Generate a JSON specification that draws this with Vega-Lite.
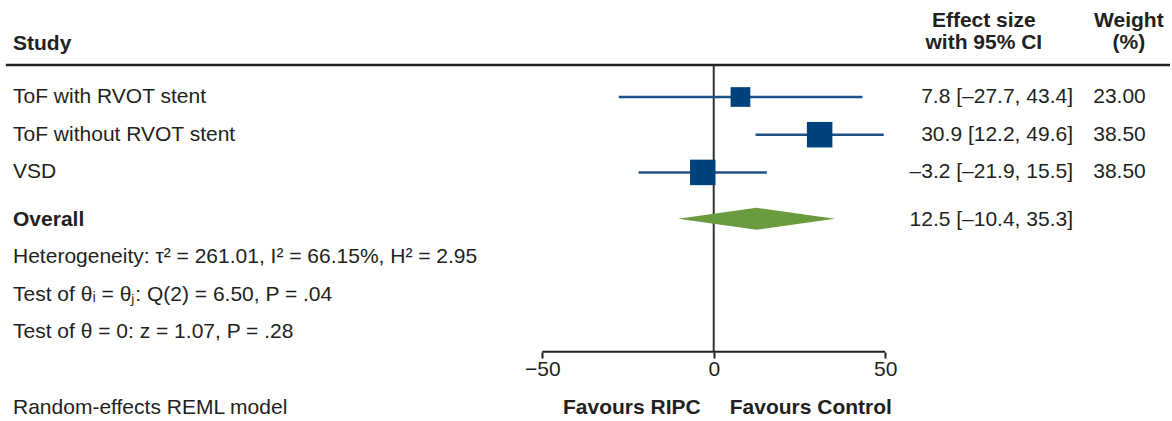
{
  "$schema": "https://vega.github.io/schema/vega-lite/v6.json",
  "width": 1172,
  "height": 421,
  "autosize": {"type": "fit", "contains": "padding"},
  "padding": 0,
  "background": "white",
  "config": {
    "view": {"stroke": null},
    "text": {"font": "Liberation Sans", "fontSize": 21, "color": "#231f20", "baseline": "middle"},
    "axisX": {
      "format": "d", "domain": false, "grid": false,
      "ticks": true, "tickSize": 6, "tickWidth": 2, "tickColor": "#231f20",
      "labelFont": "Liberation Sans", "labelFontSize": 21, "labelColor": "#231f20",
      "labelPadding": 0, "labelFlush": false, "title": null, "offset": -69
    }
  },
  "datasets": {
    "studies": [
      {"study": "ToF with RVOT stent", "row": 1, "es": 7.8, "lo": -27.7, "hi": 43.4, "weight": 23.0, "ci": "7.8 [–27.7, 43.4]", "w": "23.00"},
      {"study": "ToF without RVOT stent", "row": 2, "es": 30.9, "lo": 12.2, "hi": 49.6, "weight": 38.5, "ci": "30.9 [12.2, 49.6]", "w": "38.50"},
      {"study": "VSD", "row": 3, "es": -3.2, "lo": -21.9, "hi": 15.5, "weight": 38.5, "ci": "–3.2 [–21.9, 15.5]", "w": "38.50"}
    ],
    "overall": [
      {"label": "Overall", "row": 4.26, "es": 12.5, "lo": -10.4, "hi": 35.3, "ci": "12.5 [–10.4, 35.3]"}
    ],
    "diamond": [
      {"x": -10.4, "top": 4.23, "bottom": 4.23},
      {"x": 12.5, "top": 3.94, "bottom": 4.52},
      {"x": 35.3, "top": 4.23, "bottom": 4.23}
    ],
    "stats": [
      {"text": "Heterogeneity: τ² = 261.01, I² = 66.15%, H² = 2.95", "row": 5.24},
      {"text": "Test of θᵢ = θⱼ: Q(2) = 6.50, P = .04", "row": 6.25},
      {"text": "Test of θ = 0: z = 1.07, P = .28", "row": 7.23},
      {"text": "Random-effects REML model", "row": 9.25}
    ],
    "esHeader": [
      {"text": "Effect size", "row": -1.02},
      {"text": "with 95% CI", "row": -0.42}
    ],
    "wHeader": [
      {"text": "Weight", "row": -1.02},
      {"text": "(%)", "row": -0.42}
    ]
  },
  "layer": [
    {
      "data": {"values": [{}]},
      "mark": {"type": "rule", "color": "#231f20", "strokeWidth": 2.5},
      "encoding": {
        "x": {"datum": -206.5, "type": "quantitative", "scale": {"domain": [-208.2, 133.1], "nice": false, "zero": false}, "axis": {"values": [-50, 0, 50]}},
        "x2": {"datum": 133.1},
        "y": {"datum": 0.15, "type": "quantitative", "scale": {"domain": [-1.573, 9.594], "nice": false, "zero": false, "reverse": true}, "axis": null}
      }
    },
    {
      "data": {"values": [{}]},
      "mark": {"type": "rule", "color": "#333333", "strokeWidth": 2},
      "encoding": {
        "x": {"datum": 0, "type": "quantitative", "scale": {"domain": [-208.2, 133.1], "nice": false, "zero": false}, "axis": {"values": [-50, 0, 50]}},
        "y": {"datum": 0.15, "type": "quantitative", "scale": {"domain": [-1.573, 9.594], "nice": false, "zero": false, "reverse": true}, "axis": null},
        "y2": {"datum": 7.76}
      }
    },
    {
      "data": {"values": [{}]},
      "mark": {"type": "rule", "color": "#231f20", "strokeWidth": 2},
      "encoding": {
        "x": {"datum": -50, "type": "quantitative", "scale": {"domain": [-208.2, 133.1], "nice": false, "zero": false}, "axis": {"values": [-50, 0, 50]}},
        "x2": {"datum": 50},
        "y": {"datum": 7.76, "type": "quantitative", "scale": {"domain": [-1.573, 9.594], "nice": false, "zero": false, "reverse": true}, "axis": null}
      }
    },
    {
      "data": {"name": "studies"},
      "mark": {"type": "rule", "color": "#1d4f88", "strokeWidth": 2.5},
      "encoding": {
        "x": {"field": "lo", "type": "quantitative", "scale": {"domain": [-208.2, 133.1], "nice": false, "zero": false}, "axis": {"values": [-50, 0, 50]}},
        "x2": {"field": "hi"},
        "y": {"field": "row", "type": "quantitative", "scale": {"domain": [-1.573, 9.594], "nice": false, "zero": false, "reverse": true}, "axis": null}
      }
    },
    {
      "data": {"name": "studies"},
      "mark": {"type": "square", "color": "#00427c", "filled": true, "opacity": 1, "strokeWidth": 0},
      "encoding": {
        "x": {"field": "es", "type": "quantitative", "scale": {"domain": [-208.2, 133.1], "nice": false, "zero": false}, "axis": {"values": [-50, 0, 50]}},
        "y": {"field": "row", "type": "quantitative", "scale": {"domain": [-1.573, 9.594], "nice": false, "zero": false, "reverse": true}, "axis": null},
        "size": {"field": "weight", "type": "quantitative", "scale": {"domain": [0, 38.5], "range": [0, 650]}, "legend": null}
      }
    },
    {
      "data": {"name": "diamond"},
      "mark": {"type": "area", "color": "#6a9c3f", "opacity": 1},
      "encoding": {
        "x": {"field": "x", "type": "quantitative", "scale": {"domain": [-208.2, 133.1], "nice": false, "zero": false}, "axis": {"values": [-50, 0, 50]}},
        "y": {"field": "top", "type": "quantitative", "scale": {"domain": [-1.573, 9.594], "nice": false, "zero": false, "reverse": true}, "axis": null},
        "y2": {"field": "bottom"}
      }
    },
    {
      "data": {"name": "studies"},
      "mark": {"type": "text", "align": "left"},
      "encoding": {
        "x": {"datum": -204.4, "type": "quantitative", "scale": {"domain": [-208.2, 133.1], "nice": false, "zero": false}, "axis": {"values": [-50, 0, 50]}},
        "y": {"field": "row", "type": "quantitative", "scale": {"domain": [-1.573, 9.594], "nice": false, "zero": false, "reverse": true}, "axis": null},
        "text": {"field": "study", "type": "nominal"}
      }
    },
    {
      "data": {"name": "studies"},
      "mark": {"type": "text", "align": "right"},
      "encoding": {
        "x": {"datum": 104.8, "type": "quantitative", "scale": {"domain": [-208.2, 133.1], "nice": false, "zero": false}, "axis": {"values": [-50, 0, 50]}},
        "y": {"field": "row", "type": "quantitative", "scale": {"domain": [-1.573, 9.594], "nice": false, "zero": false, "reverse": true}, "axis": null},
        "text": {"field": "ci", "type": "nominal"}
      }
    },
    {
      "data": {"name": "studies"},
      "mark": {"type": "text", "align": "left"},
      "encoding": {
        "x": {"datum": 110.7, "type": "quantitative", "scale": {"domain": [-208.2, 133.1], "nice": false, "zero": false}, "axis": {"values": [-50, 0, 50]}},
        "y": {"field": "row", "type": "quantitative", "scale": {"domain": [-1.573, 9.594], "nice": false, "zero": false, "reverse": true}, "axis": null},
        "text": {"field": "w", "type": "nominal"}
      }
    },
    {
      "data": {"name": "overall"},
      "mark": {"type": "text", "align": "left", "fontWeight": "bold"},
      "encoding": {
        "x": {"datum": -204.4, "type": "quantitative", "scale": {"domain": [-208.2, 133.1], "nice": false, "zero": false}, "axis": {"values": [-50, 0, 50]}},
        "y": {"field": "row", "type": "quantitative", "scale": {"domain": [-1.573, 9.594], "nice": false, "zero": false, "reverse": true}, "axis": null},
        "text": {"field": "label", "type": "nominal"}
      }
    },
    {
      "data": {"name": "overall"},
      "mark": {"type": "text", "align": "right"},
      "encoding": {
        "x": {"datum": 104.8, "type": "quantitative", "scale": {"domain": [-208.2, 133.1], "nice": false, "zero": false}, "axis": {"values": [-50, 0, 50]}},
        "y": {"field": "row", "type": "quantitative", "scale": {"domain": [-1.573, 9.594], "nice": false, "zero": false, "reverse": true}, "axis": null},
        "text": {"field": "ci", "type": "nominal"}
      }
    },
    {
      "data": {"name": "stats"},
      "mark": {"type": "text", "align": "left"},
      "encoding": {
        "x": {"datum": -204.4, "type": "quantitative", "scale": {"domain": [-208.2, 133.1], "nice": false, "zero": false}, "axis": {"values": [-50, 0, 50]}},
        "y": {"field": "row", "type": "quantitative", "scale": {"domain": [-1.573, 9.594], "nice": false, "zero": false, "reverse": true}, "axis": null},
        "text": {"field": "text", "type": "nominal"}
      }
    },
    {
      "data": {"values": [{"text": "Study", "row": -0.41}]},
      "mark": {"type": "text", "align": "left", "fontWeight": "bold"},
      "encoding": {
        "x": {"datum": -204.4, "type": "quantitative", "scale": {"domain": [-208.2, 133.1], "nice": false, "zero": false}, "axis": {"values": [-50, 0, 50]}},
        "y": {"field": "row", "type": "quantitative", "scale": {"domain": [-1.573, 9.594], "nice": false, "zero": false, "reverse": true}, "axis": null},
        "text": {"field": "text", "type": "nominal"}
      }
    },
    {
      "data": {"name": "esHeader"},
      "mark": {"type": "text", "align": "center", "fontWeight": "bold"},
      "encoding": {
        "x": {"datum": 78.8, "type": "quantitative", "scale": {"domain": [-208.2, 133.1], "nice": false, "zero": false}, "axis": {"values": [-50, 0, 50]}},
        "y": {"field": "row", "type": "quantitative", "scale": {"domain": [-1.573, 9.594], "nice": false, "zero": false, "reverse": true}, "axis": null},
        "text": {"field": "text", "type": "nominal"}
      }
    },
    {
      "data": {"name": "wHeader"},
      "mark": {"type": "text", "align": "center", "fontWeight": "bold"},
      "encoding": {
        "x": {"datum": 121.1, "type": "quantitative", "scale": {"domain": [-208.2, 133.1], "nice": false, "zero": false}, "axis": {"values": [-50, 0, 50]}},
        "y": {"field": "row", "type": "quantitative", "scale": {"domain": [-1.573, 9.594], "nice": false, "zero": false, "reverse": true}, "axis": null},
        "text": {"field": "text", "type": "nominal"}
      }
    },
    {
      "data": {"values": [{"text": "Favours RIPC", "row": 9.24}]},
      "mark": {"type": "text", "align": "right", "fontWeight": "bold"},
      "encoding": {
        "x": {"datum": -3.8, "type": "quantitative", "scale": {"domain": [-208.2, 133.1], "nice": false, "zero": false}, "axis": {"values": [-50, 0, 50]}},
        "y": {"field": "row", "type": "quantitative", "scale": {"domain": [-1.573, 9.594], "nice": false, "zero": false, "reverse": true}, "axis": null},
        "text": {"field": "text", "type": "nominal"}
      }
    },
    {
      "data": {"values": [{"text": "Favours Control", "row": 9.24}]},
      "mark": {"type": "text", "align": "left", "fontWeight": "bold"},
      "encoding": {
        "x": {"datum": 4.66, "type": "quantitative", "scale": {"domain": [-208.2, 133.1], "nice": false, "zero": false}, "axis": {"values": [-50, 0, 50]}},
        "y": {"field": "row", "type": "quantitative", "scale": {"domain": [-1.573, 9.594], "nice": false, "zero": false, "reverse": true}, "axis": null},
        "text": {"field": "text", "type": "nominal"}
      }
    }
  ]
}
